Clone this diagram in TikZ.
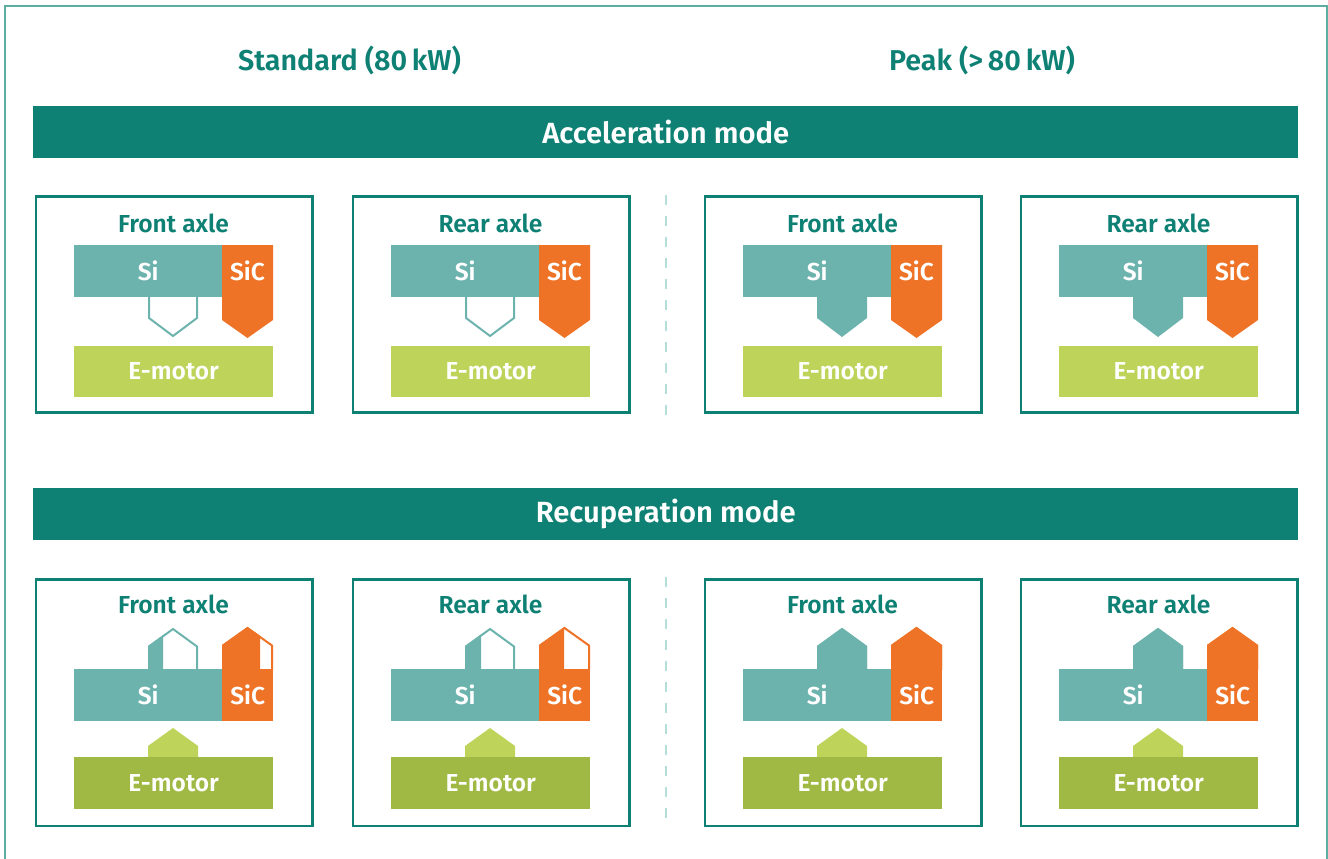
\documentclass[tikz,border=0pt]{standalone}
\usepackage{fontspec}
\setmainfont{Fira Sans}[BoldFont={Fira Sans SemiBold}]
\definecolor{dteal}{HTML}{0E8174}
\definecolor{siteal}{HTML}{6DB3AD}
\definecolor{sicor}{HTML}{EE7326}
\definecolor{lgreen}{HTML}{BDD35A}
\definecolor{dgreen}{HTML}{A0B944}
\definecolor{frame}{HTML}{5EADA3}
\definecolor{dashc}{HTML}{B3DEDA}
\tikzset{
  head/.style={font=\fontsize{28.7}{32}\selectfont\bfseries, text=dteal},
  bartxt/.style={font=\fontsize{29.2}{33}\selectfont\bfseries, text=white},
  ttl/.style={font=\fontsize{24.6}{28}\selectfont\bfseries, text=dteal},
  lbl/.style={font=\fontsize{24.5}{28}\selectfont\bfseries, text=white},
  panel/.style={draw=dteal, line width=2.6pt, anchor=north west, inner sep=0pt},
  modebar/.style={fill=dteal, anchor=north west, inner sep=0pt, minimum width=1265pt, minimum height=52pt},
  blk/.style={anchor=north west, inner sep=0pt},
  hollow/.style={draw=#1, line width=2pt, line join=miter},
  divider/.style={draw=dashc, line width=2.5pt, dash pattern=on 10pt off 11pt},
}
% block with a label: #1 name, #2 x, #3 y, #4 width, #5 height, #6 colour, #7 text
\newcommand\labelblock[7]{%
  \node[blk, fill=#6, minimum width=#4pt, minimum height=#5pt] (#1) at (#2,#3) {};
  \node[lbl] at (#1.center) {#7};}
% acceleration panel: #1 name, #2 left x, #3 title, #4 Si arrow filled (1) or hollow (0)
\newcommand\accpanel[4]{%
  \begin{scope}[shift={(#2,195)}]
    \node[panel, minimum width=276.4pt, minimum height=216pt] (#1) at (0.8,0.3) {};
    \node[ttl] (#1-title) at (139.5,28) {#3};
    \fill[sicor] (188,50) -- (239,50) -- (239,125) -- (213.5,143) -- (188,125) -- cycle;
    \labelblock{#1-si}{40}{50}{148}{52}{siteal}{Si}
    \node[lbl] (#1-sic) at (213.5,76) {SiC};
    \ifnum#4=1
      \fill[siteal] (114,101) -- (114,123) -- (139,142) -- (164,123) -- (164,101) -- cycle;
    \else
      \draw[hollow=siteal] (115,102) -- (115,123) -- (139,141) -- (163,123) -- (163,102);
    \fi
    \labelblock{#1-motor}{40}{151}{199}{51}{lgreen}{E-motor}
  \end{scope}}
% recuperation panel: #1 name, #2 left x, #3 title, #4 filled width of Si arrow, #5 filled width of SiC arrow
\newcommand\recpanel[5]{%
  \begin{scope}[shift={(#2,577)}]
    \node[panel, minimum width=276.4pt, minimum height=246.6pt] (#1) at (0.8,1) {};
    \node[ttl] (#1-title) at (139.5,27) {#3};
    % Si return arrow
    \begin{scope}
      \clip (114,40) rectangle (114+#4,93);
      \fill[siteal] (114,93) -- (114,69) -- (139,51) -- (164,69) -- (164,93) -- cycle;
    \end{scope}
    \draw[hollow=siteal] (115,93) -- (115,69.5) -- (139,52) -- (163,69.5) -- (163,93);
    % SiC return arrow
    \begin{scope}
      \clip (188,40) rectangle (188+#5,93);
      \fill[sicor] (188,93) -- (188,68) -- (213.5,50) -- (239,68) -- (239,93) -- cycle;
    \end{scope}
    \draw[hollow=sicor] (189,93) -- (189,68.5) -- (213.5,51) -- (238,68.5) -- (238,93);
    \labelblock{#1-si}{40}{92}{148}{52}{siteal}{Si}
    \labelblock{#1-sic}{188}{92}{51}{52}{sicor}{SiC}
    \fill[lgreen] (114,181) -- (114,169) -- (139,151) -- (164,169) -- (164,181) -- cycle;
    \labelblock{#1-motor}{40}{180}{199}{52}{dgreen}{E-motor}
  \end{scope}}
\begin{document}
\begin{tikzpicture}[x=1pt, y=-1pt]
  \useasboundingbox (0,0) rectangle (1328,859);
  \clip (0,0) rectangle (1328,859);
  % outer frame, open at the bottom
  \draw[frame, line width=2pt] (5,880) -- (5,6.5) -- (1326.5,6.5) -- (1326.5,880);
  % column headings
  \node[head] (std) at (349.5,60) {Standard (80\,kW)};
  \node[head] (peak) at (982,60) {Peak (>\,80\,kW)};
  % acceleration mode
  \node[modebar] (acc) at (33,106) {};
  \node[bartxt] at (acc.center) {Acceleration mode};
  \accpanel{a1}{34}{Front axle}{0}
  \accpanel{a2}{351}{Rear axle}{0}
  \accpanel{a3}{703}{Front axle}{1}
  \accpanel{a4}{1019}{Rear axle}{1}
  \coordinate (d1t) at (666,195);
  \coordinate (d1b) at (666,415);
  \draw[divider] (d1t) -- (d1b);
  % recuperation mode
  \node[modebar] (rec) at (33,488) {};
  \node[bartxt] at (rec.center) {Recuperation mode};
  \recpanel{r1}{34}{Front axle}{15}{38}
  \recpanel{r2}{351}{Rear axle}{16}{25}
  \recpanel{r3}{703}{Front axle}{60}{60}
  \recpanel{r4}{1019}{Rear axle}{60}{60}
  \coordinate (d2t) at (666,577);
  \coordinate (d2b) at (666,827);
  \draw[divider] (d2t) -- (d2b);
\end{tikzpicture}
\end{document}
